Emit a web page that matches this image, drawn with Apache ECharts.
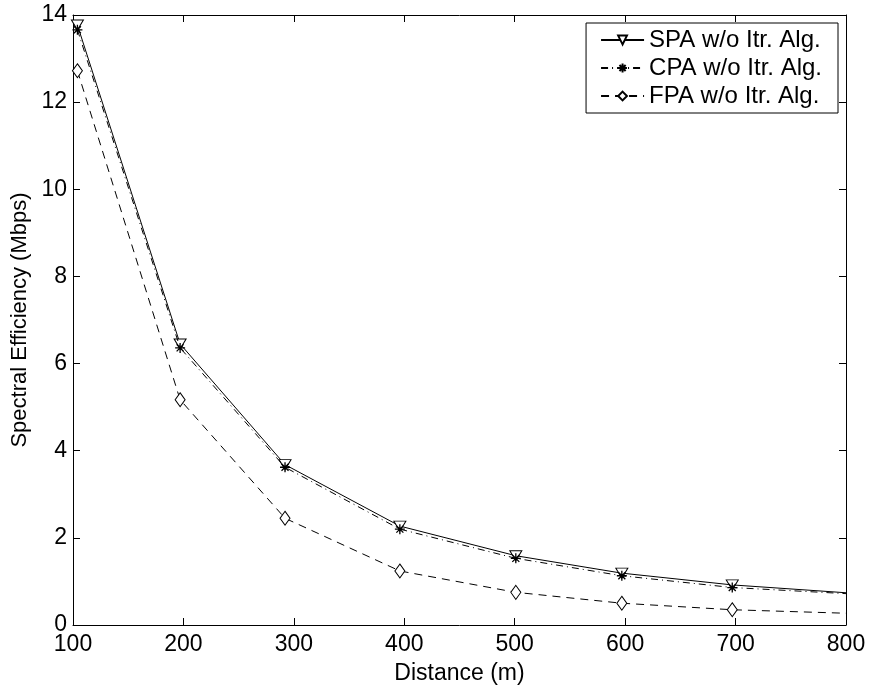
<!DOCTYPE html>
<html><head><meta charset="utf-8">
<script src="https://cdn.jsdelivr.net/npm/echarts@6/dist/echarts.min.js"></script>
<style>html,body{margin:0;padding:0;background:#fff}#c{width:869px;height:692px}</style>
</head><body><div id="c"></div>
<script>
var seriesNames = ['SPA w/o Itr. Alg.', 'CPA w/o Itr. Alg.', 'FPA w/o Itr. Alg.'];
var distances = [104, 197, 292, 396, 501, 597, 697, 800];
var spa = [13.77, 6.45, 3.68, 2.27, 1.59, 1.19, 0.92, 0.74];
var cpa = [13.66, 6.36, 3.62, 2.20, 1.53, 1.13, 0.86, 0.72];
var fpa = [12.72, 5.17, 2.45, 1.24, 0.75, 0.50, 0.35, 0.27];
var xTicks = [100, 200, 300, 400, 500, 600, 700, 800];
var yTicks = [0, 2, 4, 6, 8, 10, 12, 14];

var font = 'Liberation Sans, Arial, sans-serif';
var star = 'path://M0,-1L0,1M-1,0L1,0M-0.7,-0.7L0.7,0.7M-0.7,0.7L0.7,-0.7';
function mk(vals){
  return distances.map(function(d,i){
    var p = {value:[d, vals[i]]};
    if (i === distances.length-1) p.symbol = 'none';
    return p;
  });
}
var chart = echarts.init(document.getElementById('c'), null, {renderer:'canvas'});
var axisCommon = {
  axisLine:{show:true, onZero:false, lineStyle:{color:'#000', width:1}},
  axisTick:{show:true, inside:true, length:7, lineStyle:{color:'#000'}},
  splitLine:{show:false}
};
chart.setOption({
  animation:false,
  backgroundColor:'#fff',
  grid:{left:73, right:23, top:15, bottom:67, show:false},
  legend:{
    show:true, right:31, top:23, orient:'vertical', align:'left',
    backgroundColor:'#fff', borderColor:'#000', borderWidth:1,
    padding:[5,16,5,14], itemGap:4, itemWidth:43, itemHeight:11, itemTextGap:12,
    textStyle:{fontFamily:font, fontSize:24, lineHeight:24, color:'#000'},
    data:seriesNames
  },
  xAxis:[
    Object.assign({type:'value', min:100, max:800, interval:100, position:'bottom',
      name:'Distance (m)', nameLocation:'middle', nameGap:37,
      nameTextStyle:{fontFamily:font, fontSize:23, color:'#000'},
      axisLabel:{fontFamily:font, fontSize:23, color:'#000', margin:8,
        formatter:function(v){return xTicks.indexOf(v)>=0 ? String(v) : '';}}}, axisCommon),
    Object.assign({type:'value', min:100, max:800, interval:100, position:'top',
      axisLabel:{show:false}}, axisCommon)
  ],
  yAxis:[
    Object.assign({type:'value', min:0, max:14, interval:2, position:'left',
      name:'Spectral Efficiency (Mbps)', nameLocation:'middle', nameGap:36,
      nameTextStyle:{fontFamily:font, fontSize:22, color:'#000'},
      axisLabel:{fontFamily:font, fontSize:23, color:'#000', margin:6,
        formatter:function(v){return yTicks.indexOf(v)>=0 ? String(v) : '';}}}, axisCommon),
    Object.assign({type:'value', min:0, max:14, interval:2, position:'right',
      axisLabel:{show:false}}, axisCommon)
  ],
  series:[
    {name:seriesNames[0], type:'line', data:mk(spa), symbol:'triangle', symbolRotate:180, symbolSize:[12,10],
      lineStyle:{color:'#000', width:1, type:'solid'},
      itemStyle:{color:'#fff', borderColor:'#000', borderWidth:1}, z:3},
    {name:seriesNames[1], type:'line', data:mk(cpa), symbol:star, symbolSize:10,
      lineStyle:{color:'#000', width:1, type:[7,4,1,4]},
      itemStyle:{color:'#000', borderColor:'#000', borderWidth:1.3}, z:4},
    {name:seriesNames[2], type:'line', data:mk(fpa), symbol:'diamond', symbolSize:[10,14],
      lineStyle:{color:'#000', width:1, type:[8,6]},
      itemStyle:{color:'#fff', borderColor:'#000', borderWidth:1}, z:3}
  ]
});
</script></body></html>
